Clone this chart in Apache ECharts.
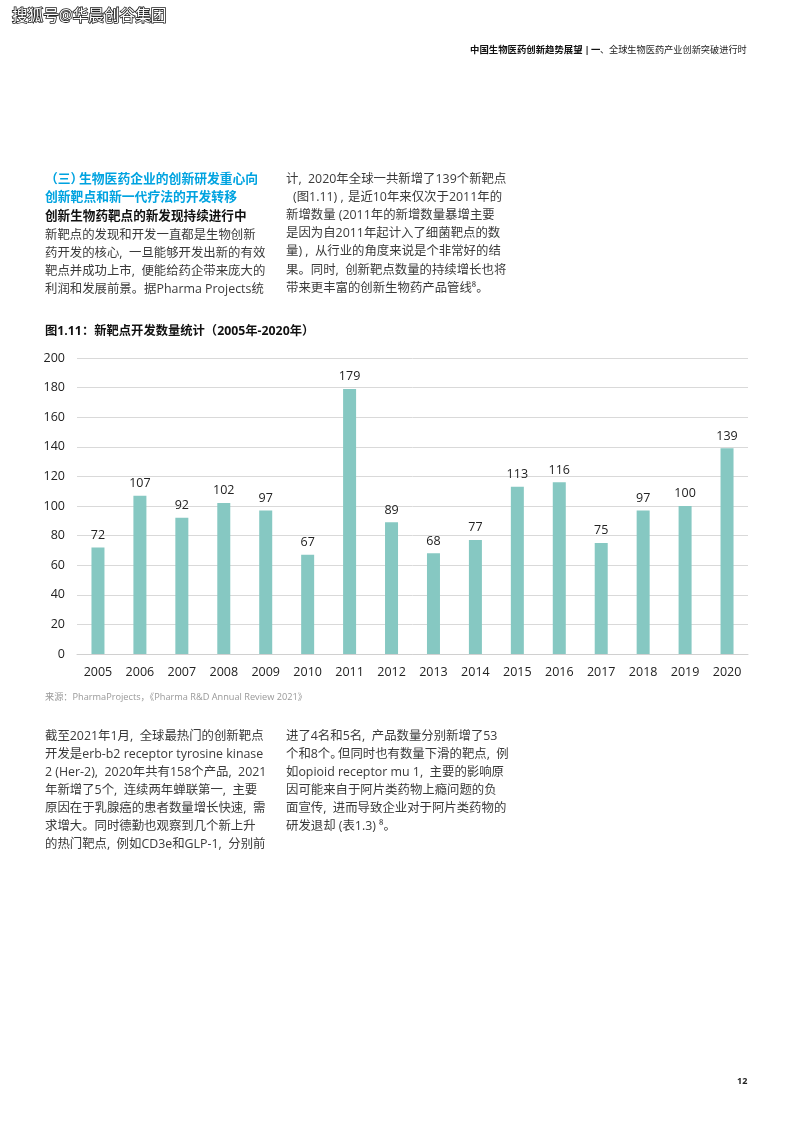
<!DOCTYPE html>
<html>
<head>
<meta charset="utf-8">
<style>html,body{margin:0;padding:0;background:#fff}#chart{width:793px;height:1122px}</style>
<script src="https://cdn.jsdelivr.net/npm/echarts@6/dist/echarts.min.js"></script>
</head>
<body>
<div id="chart"></div>
<script>
const years = ['2005','2006','2007','2008','2009','2010','2011','2012','2013','2014','2015','2016','2017','2018','2019','2020'];
const newTargets = [72,107,92,102,97,67,179,89,68,77,113,116,75,97,100,139];

const subheading = '创新生物药靶点的新发现持续进行中';
const leftTop = ['新靶点的发现和开发一直都是生物创新','药开发的核心,  一旦能够开发出新的有效','靶点并成功上市,  便能给药企带来庞大的','利润和发展前景。据Pharma Projects统'];
const rightTop = ['计,  2020年全球一共新增了139个新靶点','','新增数量 (2011年的新增数量暴增主要','是因为自2011年起计入了细菌靶点的数','量) ,  从行业的角度来说是个非常好的结','果。同时,  创新靶点数量的持续增长也将','带来更丰富的创新生物药产品管线⁸。'];
const leftBottom = ['截至2021年1月,  全球最热门的创新靶点','开发是erb-b2 receptor tyrosine kinase','2 (Her-2),  2020年共有158个产品,  2021','年新增了5个,  连续两年蝉联第一,  主要','原因在于乳腺癌的患者数量增长快速,  需','求增大。同时德勤也观察到几个新上升','的热门靶点,  例如CD3e和GLP-1,  分别前'];
const rightBottom = ['进了4名和5名,  产品数量分别新增了53','','如opioid receptor mu 1,  主要的影响原','因可能来自于阿片类药物上瘾问题的负','面宣传,  进而导致企业对于阿片类药物的','研发退却 (表1.3) ⁸。'];

const FONT = '"Open Sans","Noto Sans CJK SC",sans-serif';

function label(text, x, y, style) {
    return {type:'text', x:x, y:y, silent:true, style:Object.assign({
        text:text, font:'12.4px '+FONT, fill:'#3a3a3a', textVerticalAlign:'middle'
    }, style)};
}
function block(lines, x, y, step, style) {
    return lines.map((t,i)=>label(t, x, y+i*step, style));
}

const heading = {font:'bold 12.8px '+FONT, fill:'#00a3e0'};
const texts = [
    label('搜狐号@华晨创谷集团', 12, 17, {font:'15.6px '+FONT, fill:'#fff', stroke:'#222', lineWidth:1.6}),
    label('中国生物医药创新趋势展望', 470, 50, {font:'bold 9.4px '+FONT, fill:'#111'}),
    label('|', 584.5, 50, {font:'bold 9.4px '+FONT, fill:'#111'}),
    label('一', 591, 50, {font:'bold 9.4px '+FONT, fill:'#111'}),
    label('、', 600, 50, {font:'9.2px '+FONT, fill:'#222'}),
    label('全球生物医药产业创新突破进行时', 609, 50, {font:'9.2px '+FONT, fill:'#222'}),
    label('（三）', 45, 179, heading),
    label('生物医药企业的创新研发重心向', 79, 179, heading),
    label('创新靶点和新一代疗法的开发转移', 45, 197.5, heading),
    label(subheading, 45, 216.5, {font:'bold 12.6px '+FONT, fill:'#111'}),
    ...block(leftTop, 45, 235, 18, {}),
    ...block(rightTop, 286, 179, 18.2, {}),
    // these two lines have tighter punctuation in the original, so they are split
    label('(图1.11) ,', 293, 197.2, {}),
    label('是近10年来仅次于2011年的', 348, 197.2, {}),
    label('图1.11：新靶点开发数量统计（2005年-2020年）', 45, 331, {font:'bold 12.3px '+FONT, fill:'#111'}),
    label('来源：PharmaProjects，《Pharma R&D Annual Review 2021》', 45, 697, {font:'9.2px '+FONT, fill:'#999'}),
    ...block(leftBottom, 45, 736, 18, {}),
    ...block(rightBottom, 286, 736, 18, {}),
    label('个和8个。', 286, 754, {}),
    label('但同时也有数量下滑的靶点,  例', 338, 754, {}),
    label('12', 737, 1081, {font:'bold 9px '+FONT, fill:'#222'})
];

const chart = echarts.init(document.getElementById('chart'), null, {renderer:'canvas'});
chart.setOption({
    animation:false,
    backgroundColor:'#fff',
    textStyle:{fontFamily:FONT},
    grid:{left:77, right:45, top:358, height:296, containLabel:false},
    xAxis:{
        type:'category', data:years,
        axisLine:{lineStyle:{color:'#d0d0d0', width:1}},
        axisTick:{show:false},
        axisLabel:{color:'#222', fontSize:12.5, margin:12, interval:0}
    },
    yAxis:{
        type:'value', min:0, max:200, interval:20,
        axisLine:{show:false}, axisTick:{show:false},
        axisLabel:{color:'#222', fontSize:12.5, margin:12},
        splitLine:{lineStyle:{color:'#d9d9d9', width:1}}
    },
    series:[{
        type:'bar', data:newTargets, barWidth:13,
        itemStyle:{color:'#86c8c2'},
        label:{show:true, position:'top', distance:6, color:'#222', fontSize:12.5}
    }],
    graphic:{elements:texts}
});
</script>
</body>
</html>
